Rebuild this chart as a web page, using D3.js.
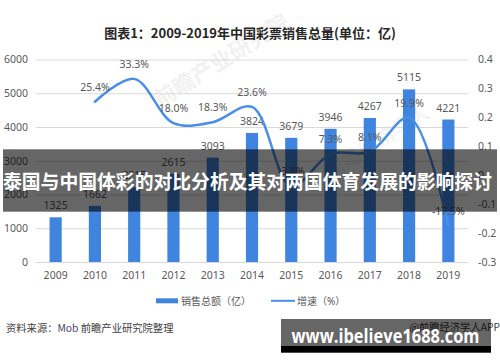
<!DOCTYPE html>
<html>
<head>
<meta charset="utf-8">
<script src="https://cdn.jsdelivr.net/npm/d3@7"></script>
<style>
  body { margin: 0; background: #fff; }
  svg text { font-family: "Noto Sans", "Noto Sans CJK SC", sans-serif; }
</style>
</head>
<body>
<svg id="chart" width="500" height="362"></svg>
<script>
// chart data
var years = ["2009", "2010", "2011", "2012", "2013", "2014", "2015", "2016", "2017", "2018", "2019"];
var sales = [1325, 1662, 2215, 2615, 3093, 3824, 3679, 3946, 4267, 5115, 4221];
var growth = [null, 0.254, 0.333, 0.180, 0.183, 0.236, -0.038, 0.073, 0.081, 0.199, -0.175];
var growthLabels = ["", "25.4%", "33.3%", "18.0%", "18.3%", "23.6%", "-3.8%", "7.3%", "8.1%", "19.9%", "-17.5%"];
var leftTicks = [0, 1000, 2000, 3000, 4000, 5000, 6000];
var rightTicks = [-0.3, -0.2, -0.1, 0, 0.1, 0.2, 0.3, 0.4];

var barColor = "#3f85e0",
    lineColor = "#4a8fe6",
    labelColor = "#595959";

var svg = d3.select("#chart");

var x = d3.scaleBand().domain(years).range([36, 468]).paddingInner(0.69).paddingOuter(0.345);
var yL = d3.scaleLinear().domain([0, 6000]).range([262, 59.5]);
var yR = d3.scaleLinear().domain([-0.3, 0.4]).range([262, 59.5]);

// title
svg.append("text")
    .attr("x", 250).attr("y", 38)
    .attr("text-anchor", "middle")
    .style("font-family", "'Noto Sans CJK SC', sans-serif")
    .style("font-size", "13px").style("font-weight", "bold")
    .style("fill", "#262626")
    .text("图表1：2009-2019年中国彩票销售总量(单位：亿)");

// faint watermark of the source
svg.append("text")
    .attr("transform", "translate(160,108) rotate(-32)")
    .style("font-family", "'Noto Sans CJK SC', sans-serif")
    .style("font-size", "22px").style("font-weight", "bold")
    .style("fill", "#000").style("opacity", 0.05)
    .text("前瞻产业研究院");
svg.append("text")
    .attr("transform", "translate(330,180) rotate(-32)")
    .style("font-family", "'Noto Sans CJK SC', sans-serif")
    .style("font-size", "20px").style("font-weight", "bold")
    .style("fill", "#000").style("opacity", 0.04)
    .text("前瞻经济学人");

// gridlines
svg.append("g")
    .attr("transform", "translate(36,0)")
    .call(d3.axisRight(yL).tickValues(leftTicks).tickSize(432).tickFormat(""))
    .call(function (g) { g.select(".domain").remove(); })
    .selectAll("line").attr("stroke", "#d9d9d9");

// left axis
var gLeft = svg.append("g")
    .attr("transform", "translate(28,0)")
    .call(d3.axisLeft(yL).tickValues(leftTicks).tickSize(0).tickPadding(0).tickFormat(d3.format("d")));
gLeft.select(".domain").remove();

// right axis
var gRight = svg.append("g")
    .attr("transform", "translate(478,0)")
    .call(d3.axisRight(yR).tickValues(rightTicks).tickSize(0).tickPadding(0)
        .tickFormat(function (d) { return String(Math.round(d * 10) / 10); }));
gRight.select(".domain").remove();

// bottom axis
var gBottom = svg.append("g")
    .attr("transform", "translate(0,262)")
    .call(d3.axisBottom(x).tickSize(0).tickPadding(10));
gBottom.select(".domain").remove();

svg.selectAll(".tick text")
    .style("font-size", "10.5px")
    .style("fill", labelColor);

// bars
svg.append("g").selectAll("rect")
    .data(sales)
    .enter().append("rect")
    .attr("x", function (d, i) { return x(years[i]); })
    .attr("y", function (d) { return yL(d); })
    .attr("width", x.bandwidth())
    .attr("height", function (d) { return yL(0) - yL(d); })
    .attr("fill", barColor);

svg.append("g").selectAll("text")
    .data(sales)
    .enter().append("text")
    .attr("x", function (d, i) { return x(years[i]) + x.bandwidth() / 2; })
    .attr("y", function (d) { return yL(d) - 8; })
    .attr("text-anchor", "middle")
    .style("font-size", "10.5px")
    .style("fill", labelColor)
    .text(function (d) { return d; });

// growth line
var pts = years.map(function (yr, i) { return {year: yr, v: growth[i], label: growthLabels[i]}; })
    .filter(function (d) { return d.v !== null; });

var line = d3.line()
    .x(function (d) { return x(d.year) + x.bandwidth() / 2; })
    .y(function (d) { return yR(d.v); })
    .curve(d3.curveCatmullRom.alpha(0.5));

svg.append("path")
    .datum(pts)
    .attr("d", line)
    .attr("fill", "none")
    .attr("stroke", lineColor)
    .attr("stroke-width", 2.5)
    .attr("stroke-linecap", "round");

svg.append("g").selectAll("text")
    .data(pts)
    .enter().append("text")
    .attr("x", function (d) { return x(d.year) + x.bandwidth() / 2; })
    .attr("y", function (d) { return yR(d.v) - 11; })
    .attr("text-anchor", "middle")
    .style("font-size", "10.5px")
    .style("fill", labelColor)
    .text(function (d) { return d.label; });

// legend
var legend = svg.append("g").style("font-family", "'Noto Sans CJK SC', sans-serif");
legend.append("rect").attr("x", 156).attr("y", 298.3).attr("width", 22).attr("height", 5).attr("fill", barColor);
legend.append("text").attr("x", 181).attr("y", 304.5)
    .style("font-size", "10px").style("fill", labelColor).text("销售总额（亿）");
legend.append("line").attr("x1", 271).attr("x2", 295).attr("y1", 300.8).attr("y2", 300.8)
    .attr("stroke", lineColor).attr("stroke-width", 2);
legend.append("text").attr("x", 297).attr("y", 304.5)
    .style("font-size", "10px").style("fill", labelColor).text("增速（%）");

// source line
var src = svg.append("text").attr("x", 6).attr("y", 331.5)
    .style("font-family", "'Noto Sans CJK SC', sans-serif")
    .style("font-size", "10.3px").style("fill", "#404040");
src.append("tspan").text("资料来源：");
src.append("tspan").style("fill", "#4b3f72").text("Mob");
src.append("tspan").text(" 前瞻产业研究院整理");

svg.append("text").attr("x", 500).attr("y", 330.5)
    .attr("text-anchor", "end")
    .style("font-family", "'Noto Sans CJK SC', sans-serif")
    .style("font-size", "10.3px").style("fill", "#404040")
    .text("@前瞻经济学人APP");

// overlay banner
svg.append("rect").attr("x", 3).attr("y", 149.3).attr("width", 494).attr("height", 62.4)
    .attr("fill", "#000").attr("opacity", 0.6);
svg.append("text")
    .attr("x", 3).attr("y", 189)
    .attr("textLength", 489).attr("lengthAdjust", "spacingAndGlyphs")
    .style("font-family", "'Noto Sans CJK SC', sans-serif")
    .style("font-size", "19.5px").style("font-weight", "bold")
    .style("fill", "#fff")
    .text("泰国与中国体彩的对比分析及其对两国体育发展的影响探讨");

// overlay site stamp
svg.append("rect").attr("x", 281).attr("y", 319).attr("width", 210).attr("height", 27)
    .attr("fill", "#000").attr("opacity", 0.6);
svg.append("rect").attr("x", 281).attr("y", 346).attr("width", 210).attr("height", 6.7)
    .attr("fill", "#000");
svg.append("text")
    .attr("x", 291.5).attr("y", 343)
    .attr("textLength", 188).attr("lengthAdjust", "spacingAndGlyphs")
    .style("font-family", "'Open Sans', 'Noto Sans', sans-serif")
    .style("font-size", "19px").style("font-weight", "bold")
    .style("fill", "#fff")
    .text("www.ibelieve1688.com");
</script>
</body>
</html>
